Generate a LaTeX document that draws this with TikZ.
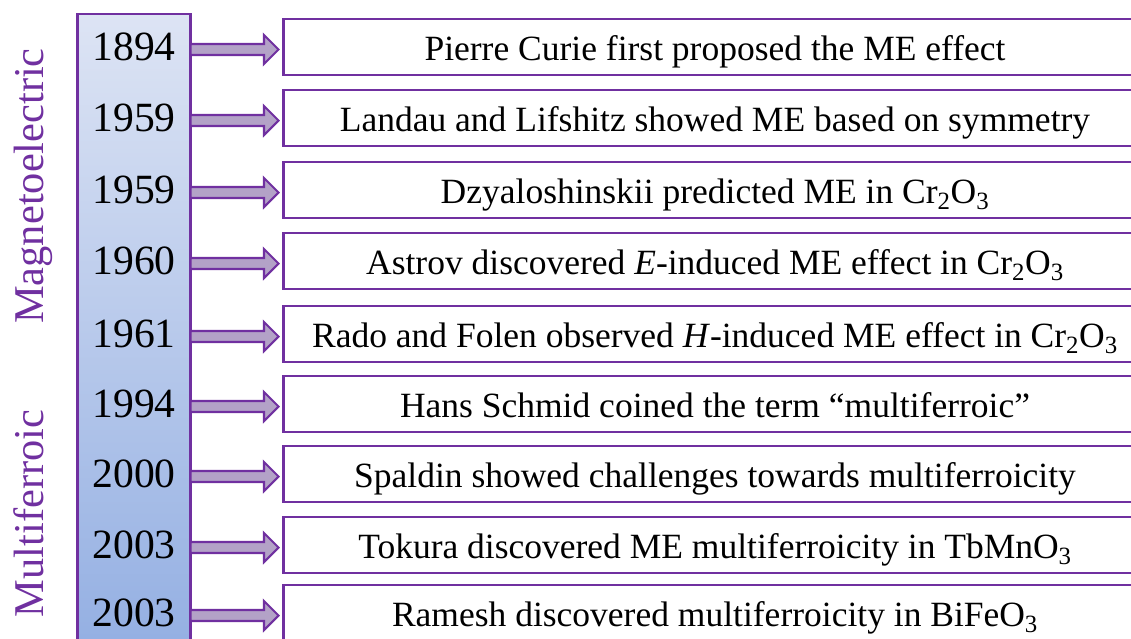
\documentclass[tikz,border=0pt]{standalone}
\usepackage{fontspec}
\setmainfont{Liberation Serif}
\usetikzlibrary{calc}

\definecolor{mepurple}{RGB}{112,48,160}
\definecolor{mearrow}{RGB}{179,162,199}
\definecolor{bartop}{RGB}{221,228,244}
\definecolor{barbottom}{RGB}{146,174,226}

\newcommand{\px}{0.03cm}
% block arrow from the year bar to the left side of an event box
\newcommand{\fatarrow}[1]{%
  \coordinate (#1-tip) at ($(#1.west)+(-5,2.5)$);
  \coordinate (#1-tail) at (bar.east |- #1-tip);
  \draw[fatarrow] ($(#1-tail)+(0,-5.5)$) -- ($(#1-tip)+(-14.5,-5.5)$)
    -- ($(#1-tip)+(-14.5,-14.5)$) -- (#1-tip) -- ($(#1-tip)+(-14.5,14.5)$)
    -- ($(#1-tip)+(-14.5,5.5)$) -- ($(#1-tail)+(0,5.5)$) -- cycle;}

\begin{document}
\begin{tikzpicture}[
    x=0.03cm,y=-0.03cm,
    yearbar/.style={draw=mepurple,line width=2.5pt,anchor=north west,
      outer sep=0pt,inner sep=0pt,minimum width=113*\px,minimum height=650*\px,
      top color=bartop,bottom color=barbottom},
    event/.style={draw=mepurple,line width=1.8pt,anchor=north west,
      outer sep=0pt,inner sep=0pt,minimum width=863*\px,minimum height=56*\px,
      text height=22.4pt,text depth=0.2pt,font=\fontsize{30.3}{36}\selectfont},
    year/.style={anchor=base,inner sep=0pt,font=\fontsize{35.5}{40}\selectfont},
    side/.style={rotate=90,anchor=base,inner sep=0pt,text=mepurple,
      font=\fontsize{36.2}{40}\selectfont},
    fatarrow/.style={draw=mepurple,fill=mearrow,line width=1.8pt,line join=miter}
  ]

    \useasboundingbox (0,0) rectangle (1131,638);
    \clip (0,0) rectangle (1131,638);

    % Side labels
    \node[side] (magneto) at (43,186) {Magnetoelectric};
    \node[side] (multi) at (43,513.5) {Multiferroic};

    % The time bar
    \node[yearbar] (bar) at (77.5,14) {};

    % One box per event
    \node[event] (b1) at (283.5,19) {Pierre Curie first proposed the ME effect};
    \node[event] (b2) at (283.5,90) {Landau and Lifshitz showed ME based on symmetry};
    \node[event] (b3) at (283.5,162) {Dzyaloshinskii predicted ME in Cr\textsubscript{2}O\textsubscript{3}};
    \node[event] (b4) at (283.5,233)
      {Astrov discovered \textit{E}-induced ME effect in Cr\textsubscript{2}O\textsubscript{3}};
    \node[event] (b5) at (283.5,306)
      {Rado and Folen observed \textit{H}-induced ME effect in Cr\textsubscript{2}O\textsubscript{3}};
    \node[event] (b6) at (283.5,376) {Hans Schmid coined the term ``multiferroic''};
    \node[event] (b7) at (283.5,446) {Spaldin showed challenges towards multiferroicity};
    \node[event] (b8) at (283.5,517) {Tokura discovered ME multiferroicity in TbMnO\textsubscript{3}};
    \node[event] (b9) at (283.5,585) {Ramesh discovered multiferroicity in BiFeO\textsubscript{3}};

    % Years on the bar, on the baseline of their event
    \node[year] (y1) at (bar.center |- b1.base) {1894};
    \node[year] (y2) at (bar.center |- b2.base) {1959};
    \node[year] (y3) at (bar.center |- b3.base) {1959};
    \node[year] (y4) at (bar.center |- b4.base) {1960};
    \node[year] (y5) at (bar.center |- b5.base) {1961};
    \node[year] (y6) at (bar.center |- b6.base) {1994};
    \node[year] (y7) at (bar.center |- b7.base) {2000};
    \node[year] (y8) at (bar.center |- b8.base) {2003};
    \node[year] (y9) at (bar.center |- b9.base) {2003};

    % Arrows from the bar to the events
    \fatarrow{b1}
    \fatarrow{b2}
    \fatarrow{b3}
    \fatarrow{b4}
    \fatarrow{b5}
    \fatarrow{b6}
    \fatarrow{b7}
    \fatarrow{b8}
    \fatarrow{b9}

  \end{tikzpicture}
\end{document}
